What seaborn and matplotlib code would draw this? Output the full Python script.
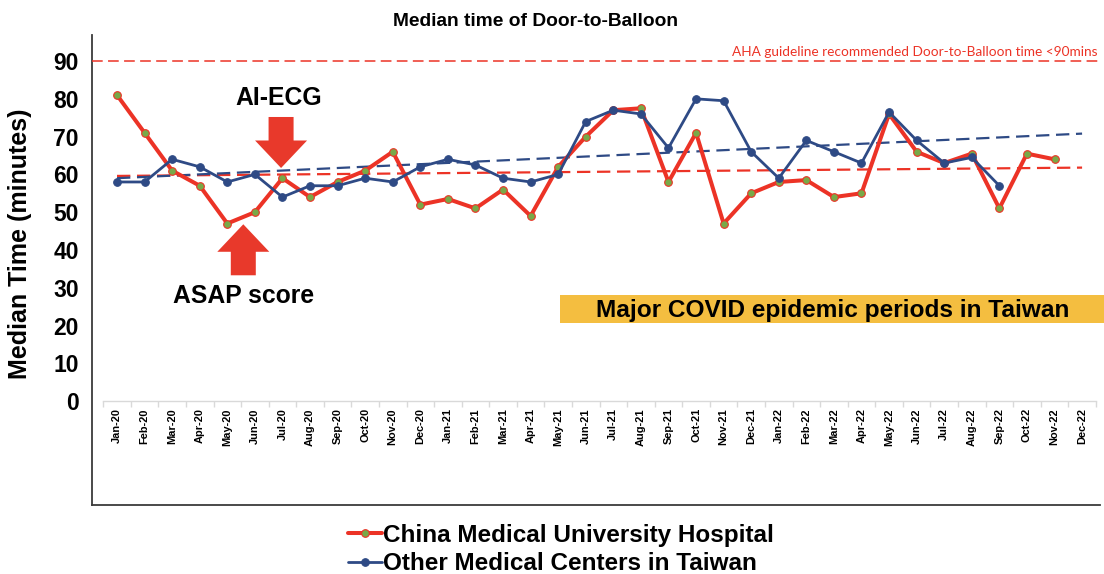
import numpy as np
import pandas as pd
import matplotlib
matplotlib.use("Agg")
import matplotlib.pyplot as plt
import seaborn as sns
from matplotlib.patches import Rectangle

# ---------------- data ----------------
months = ["Jan-20", "Feb-20", "Mar-20", "Apr-20", "May-20", "Jun-20", "Jul-20", "Aug-20",
          "Sep-20", "Oct-20", "Nov-20", "Dec-20", "Jan-21", "Feb-21", "Mar-21", "Apr-21",
          "May-21", "Jun-21", "Jul-21", "Aug-21", "Sep-21", "Oct-21", "Nov-21", "Dec-21",
          "Jan-22", "Feb-22", "Mar-22", "Apr-22", "May-22", "Jun-22", "Jul-22", "Aug-22",
          "Sep-22", "Oct-22", "Nov-22", "Dec-22"]
cmuh = [81, 71, 61, 57, 47, 50, 59, 54, 58, 61, 66, 52,
        53.5, 51, 56, 49, 62, 70, 77, 77.5, 58, 71, 47, 55,
        58, 58.5, 54, 55, 76, 66, 63, 65.5, 51, 65.5, 64, np.nan]
others = [58, 58, 64, 62, 58, 60, 54, 57, 57, 59, 58, 62,
          64, 62.5, 59, 58, 60, 74, 77, 76, 67, 80, 79.5, 66,
          59, 69, 66, 63, 76.5, 69, 63, 64.5, 57, np.nan, np.nan, np.nan]
# linear trend lines (value at first and last month)
cmuh_trend = [59.6, 61.8]
others_trend = [59.0, 70.8]
aha_target = 90
yticks = list(range(0, 100, 10))

series_names = ["China Medical University Hospital", "Other Medical Centers in Taiwan"]

df = pd.DataFrame({"idx": np.arange(len(months)), "month": months,
                   "cmuh": cmuh, "others": others})
trend_df = pd.DataFrame({"idx": [0, len(months) - 1],
                         "cmuh": cmuh_trend, "others": others_trend})

# ---------------- style ----------------
sns.set_theme(style="white")
plt.rcParams["font.family"] = ["Liberation Sans", "DejaVu Sans"]
plt.rcParams["font.weight"] = "bold"
plt.rcParams["text.color"] = "black"
plt.rcParams["axes.labelcolor"] = "black"
plt.rcParams["xtick.color"] = "black"
plt.rcParams["ytick.color"] = "black"

RED = "#EC3326"
GREEN = "#78A948"
BLUE = "#2E4A85"
ARROW = "#E8392B"
YELLOW = "#F4BE40"

W, H = 1104, 574
fig = plt.figure(figsize=(W / 100, H / 100), dpi=100)
rect = [92 / W, 69 / H, 1008 / W, 470 / H]

# outer frame (left + bottom border)
frame = fig.add_axes(rect, zorder=0)
frame.set_xticks([]); frame.set_yticks([])
for s in ["top", "right"]:
    frame.spines[s].set_visible(False)
for s in ["left", "bottom"]:
    frame.spines[s].set_color("#3a3a3a")
    frame.spines[s].set_linewidth(1.3)
frame.patch.set_alpha(0)

ax = fig.add_axes(rect, zorder=1)
ax.patch.set_alpha(0)
ax.set_xlim(-0.907, 35.65)
ax.set_ylim(-27.5, 96.9)

# AHA guideline line
ax.axhline(aha_target, color=RED, lw=1.1, dashes=(7, 3.5), zorder=1)
ax.text(35.55, 92.4, "AHA guideline recommended Door-to-Balloon time <90mins",
        ha="right", va="center", color=RED, fontsize=9.8, fontweight="normal",
        family=["Lato", "DejaVu Sans"])

# trend lines
sns.lineplot(data=trend_df, x="idx", y="cmuh", ax=ax, color=RED, lw=1.6,
             zorder=2, legend=False).lines[-1].set_dashes((6, 3))
sns.lineplot(data=trend_df, x="idx", y="others", ax=ax, color=BLUE, lw=1.6,
             zorder=2, legend=False).lines[-1].set_dashes((6, 3))

# series
sns.lineplot(data=df, x="idx", y="cmuh", ax=ax, color=RED, lw=2.9, marker="o",
             markersize=5.5, markerfacecolor=GREEN, markeredgecolor=RED,
             markeredgewidth=0.8, label=series_names[0], zorder=3)
sns.lineplot(data=df, x="idx", y="others", ax=ax, color=BLUE, lw=2.0, marker="o",
             markersize=5.5, markerfacecolor=BLUE, markeredgecolor=BLUE,
             label=series_names[1], zorder=4)

# axes styling
for s in ["top", "right", "left"]:
    ax.spines[s].set_visible(False)
ax.spines["bottom"].set_position(("data", 0))
ax.spines["bottom"].set_bounds(-0.5, len(months) - 0.5)
ax.spines["bottom"].set_color("#d9d9d9")
ax.spines["bottom"].set_linewidth(1.0)

ax.set_xticks(df["idx"])
ax.set_xticklabels(months, rotation=90, fontsize=7.9, fontweight="bold")
ax.set_xticks(np.arange(-0.5, len(months), 1), minor=True)
ax.tick_params(axis="x", which="major", length=0, pad=5, colors="black")
ax.tick_params(axis="x", which="minor", length=4, width=1, color="#d9d9d9",
               direction="out", bottom=True)
ax.set_yticks(yticks)
ax.set_yticklabels([str(v) for v in yticks], fontsize=16.5, fontweight="bold")
ax.tick_params(axis="y", length=0, pad=9.5)
ax.set_xlabel("")
ax.set_ylabel("Median Time (minutes)", fontsize=18, fontweight="bold",
              ha="center", va="center")
ax.yaxis.set_label_coords((20 - 92) / 1008, (505 - 243.5) / 470)
ax.grid(False)

fig.suptitle("Median time of Door-to-Balloon", x=535.5 / W, y=1 - 22 / H,
             va="center", fontsize=13.8, fontweight="bold")

# annotations
ax.text(5.88, 80.2, "AI-ECG", ha="center", va="center", fontsize=17.8, fontweight="bold")
ax.annotate("", xy=(5.95, 61.7), xytext=(5.95, 75.2),
            arrowprops=dict(arrowstyle="simple,head_width=2.08,head_length=1.1,tail_width=1.0",
                            mutation_scale=18, color=ARROW, shrinkA=0, shrinkB=0, lw=0))
ax.text(4.58, 27.8, "ASAP score", ha="center", va="center", fontsize=17.8, fontweight="bold")
ax.annotate("", xy=(4.58, 46.8), xytext=(4.58, 33.3),
            arrowprops=dict(arrowstyle="simple,head_width=2.08,head_length=1.1,tail_width=1.0",
                            mutation_scale=18, color=ARROW, shrinkA=0, shrinkB=0, lw=0))

ax.add_patch(Rectangle((16.07, 20.6), 35.8 - 16.07, 28.05 - 20.6, facecolor=YELLOW,
                       edgecolor="none", clip_on=False, zorder=1))
ax.text(25.97, 24.1, "Major COVID epidemic periods in Taiwan", ha="center", va="center",
        fontsize=17.6, fontweight="bold", zorder=2)

# legend
handles, labels = ax.get_legend_handles_labels()
ax.legend(handles, labels, loc="upper left", bbox_to_anchor=(348 / W, 1 - 524 / H),
          bbox_transform=fig.transFigure, frameon=False,
          handlelength=1.4, handletextpad=0.05, labelspacing=0.22, borderpad=0,
          borderaxespad=0, prop={"weight": "bold", "size": 17.5})

fig.savefig("out.png", dpi=100)
